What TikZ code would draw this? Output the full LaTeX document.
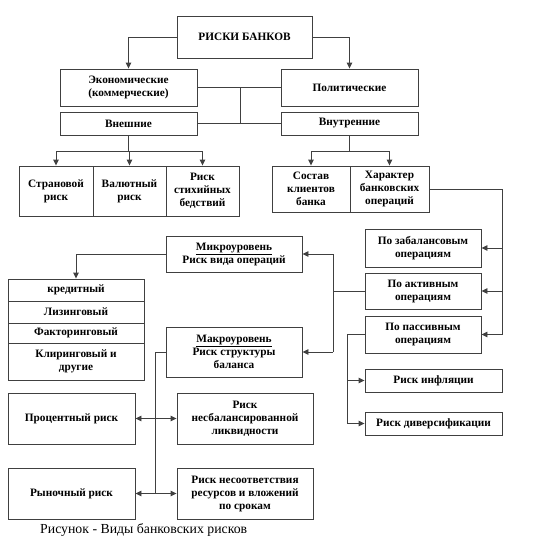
\documentclass[tikz,border=0pt]{standalone}
\usepackage{fontspec}
\setmainfont{Liberation Serif}
\usetikzlibrary{arrows.meta,calc}
\tikzset{
  bx/.style={draw=black!75, line width=0.9pt, inner sep=1pt, align=center,
    font=\fontsize{11.3}{13}\selectfont\bfseries},
  ln/.style={draw=black!75, line width=0.9pt},
  arr/.style={ln, -{Triangle[length=6pt,width=5.5pt]}},
  darr/.style={ln, {Triangle[length=6pt,width=5.5pt]}-{Triangle[length=6pt,width=5.5pt]}},
}
\begin{document}
\begin{tikzpicture}[x=1pt,y=-1pt]
\useasboundingbox (0,0) rectangle (533,547);
% nodes
\node[bx, minimum width=135pt, minimum height=42pt] (top) at (244.5,37) {РИСКИ БАНКОВ};
\node[bx, minimum width=137pt, minimum height=37pt] (econ) at (128.5,87.5) {Экономические\\(коммерческие)};
\node[bx, minimum width=137pt, minimum height=37pt] (polit) at (349.5,87.5) {Политические};
\node[bx, minimum width=137pt, minimum height=23pt] (vnesh) at (128.5,123.5) {Внешние};
\node[bx, minimum width=137pt, minimum height=23pt] (vnutr) at (349.5,123.5) {Внутренние};
\node[bx, minimum width=74pt, minimum height=50pt] (str) at (56,191) {Страновой\\риск};
\node[bx, minimum width=73pt, minimum height=50pt] (val) at (129.5,191) {Валютный\\риск};
\node[bx, minimum width=73pt, minimum height=50pt] (stih) at (202.5,191) {Риск\\стихийных\\бедствий};
\node[bx, minimum width=78pt, minimum height=46pt] (sost) at (311,189) {Состав\\клиентов\\банка};
\node[bx, minimum width=79pt, minimum height=46pt] (har) at (389.5,189) {Характер\\банковских\\операций};
\node[bx, minimum width=116pt, minimum height=38pt] (zabal) at (423,248) {По забалансовым\\операциям};
\node[bx, minimum width=116pt, minimum height=36pt] (aktiv) at (423,291) {По активным\\операциям};
\node[bx, minimum width=116pt, minimum height=37pt] (passiv) at (423,334.5) {По пассивным\\операциям};
\node[bx, minimum width=136pt, minimum height=36pt] (micro) at (234,254) {\underline{Микроуровень}\\Риск вида операций};
\node[bx, minimum width=136pt, minimum height=50pt] (macro) at (234,352) {\underline{Макроуровень}\\Риск структуры\\баланса};
\node[bx, minimum width=136pt, minimum height=22pt] (kred) at (76,290) {кредитный};
\node[bx, minimum width=136pt, minimum height=22pt] (liz) at (76,312) {Лизинговый};
\node[bx, minimum width=136pt, minimum height=20pt] (fakt) at (76,333) {Факторинговый};
\node[bx, minimum width=136pt, minimum height=37pt] (klir) at (76,361.5) {Клиринговый и\\другие};
\node[bx, minimum width=127pt, minimum height=51pt] (proc) at (71.5,418.5) {Процентный риск};
\node[bx, minimum width=136pt, minimum height=51pt] (nesbal) at (245,418.5) {Риск\\несбалансированной\\ликвидности};
\node[bx, minimum width=127pt, minimum height=51pt] (rynoch) at (71.5,493.5) {Рыночный риск};
\node[bx, minimum width=136pt, minimum height=51pt] (nesoot) at (245,493.5) {Риск несоответствия\\ресурсов и вложений\\по срокам};
\node[bx, minimum width=137pt, minimum height=23pt] (infl) at (433.5,380.5) {Риск инфляции};
\node[bx, minimum width=137pt, minimum height=23pt] (divers) at (433.5,423.5) {Риск диверсификации};
\node[anchor=west, inner sep=0pt, font=\fontsize{13.8}{15}\selectfont] (cap) at (40,530) {Рисунок - Виды банковских рисков};
% coordinates
\coordinate (b1) at (129.5,151);
\coordinate (b2) at (349.5,151);
\coordinate (r1) at (502,189);
\coordinate (m1) at (333,291);
\coordinate (ml) at (155,352);
\coordinate (pl) at (347,334.5);
\coordinate (cm) at (240,87.5);
% connectors
\draw[arr] (top.west) -| (econ.north);
\draw[arr] (top.east) -| (polit.north);
\draw[ln] (econ.east) -- (polit.west);
\draw[ln] (vnesh.east) -- (vnutr.west);
\draw[ln] (cm) -- (cm |- vnesh.east);
\draw[ln] (vnesh.south) -- (vnesh.south |- b1);
\draw[arr] (b1) -| (str.north);
\draw[arr] (b1) -- (val.north);
\draw[arr] (b1) -| (stih.north);
\draw[ln] (vnutr.south) -- (b2);
\draw[arr] (b2) -| (sost.north);
\draw[arr] (b2) -| (har.north);
\draw[ln] (har.east) -- (r1) -- (r1 |- passiv.east);
\draw[arr] (r1 |- zabal.east) -- (zabal.east);
\draw[arr] (r1 |- aktiv.east) -- (aktiv.east);
\draw[arr] (r1 |- passiv.east) -- (passiv.east);
\draw[ln] (aktiv.west) -- (m1);
\draw[ln] (m1 |- micro.east) -- (m1 |- macro.east);
\draw[arr] (m1 |- micro.east) -- (micro.east);
\draw[arr] (m1 |- macro.east) -- (macro.east);
\draw[arr] (micro.west) -| (kred.north);
\draw[ln] (macro.west) -- (ml) -- (ml |- rynoch.east);
\draw[darr] (proc.east) -- (nesbal.west);
\draw[darr] (rynoch.east) -- (nesoot.west);
\draw[ln] (passiv.west) -- (pl) -- (pl |- divers.west);
\draw[arr] (pl |- infl.west) -- (infl.west);
\draw[arr] (pl |- divers.west) -- (divers.west);
\end{tikzpicture}
\end{document}
